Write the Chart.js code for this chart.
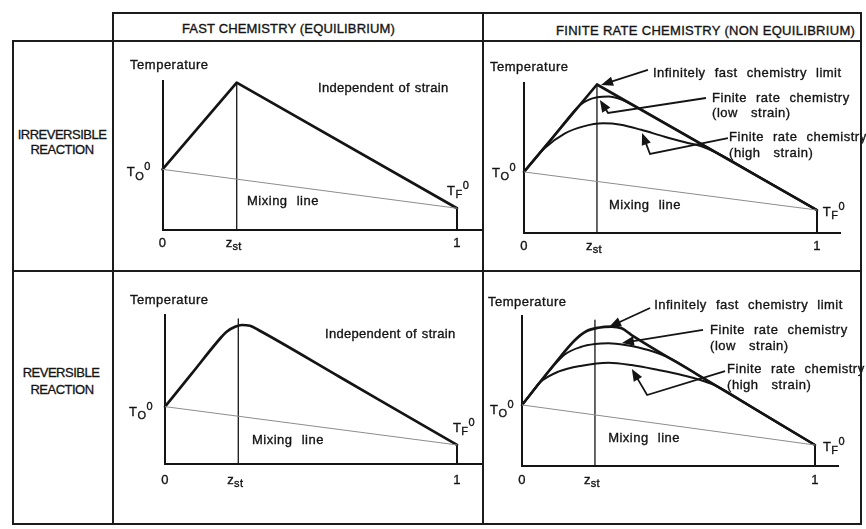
<!DOCTYPE html>
<html><head><meta charset="utf-8">
<script src="https://cdn.jsdelivr.net/npm/chart.js@4.4.1/dist/chart.umd.min.js"></script>
<style>
html,body{margin:0;padding:0;background:#fff}
body{width:866px;height:529px;position:relative;overflow:hidden;font-family:"Liberation Sans",Arial,Helvetica,sans-serif;color:#141414}
canvas{position:absolute}
.ln{position:absolute;background:#1c1c1c;z-index:5}
.hd{position:absolute;font-size:13px;line-height:16px;white-space:nowrap;letter-spacing:0.15px;-webkit-text-stroke:0.35px #141414}
.rl{position:absolute;font-size:13px;line-height:16px;white-space:nowrap;letter-spacing:-0.5px;text-align:center;width:100px;-webkit-text-stroke:0.3px #141414}
</style></head><body>
<canvas id="cA"></canvas><canvas id="cB"></canvas><canvas id="cC"></canvas><canvas id="cD"></canvas>
<div id="frame"></div>
<script>
// ---------------- DATA (z = mixture fraction, T = temperature in % of axis height) ----------------
const columnHeaders = ['FAST CHEMISTRY (EQUILIBRIUM)', 'FINITE RATE CHEMISTRY (NON EQUILIBRIUM)'];
const rowHeaders = [['IRREVERSIBLE', 'REACTION'], ['REVERSIBLE', 'REACTION']];
const tickLabels = ['0', 'z_st', '1'];

// stoichiometric mixture fraction, boundary temperatures, per panel A,B,C,D
const zStoich = [0.252, 0.249, 0.251, 0.249];
const tOxidizer = [40.5, 40.7, 38.5, 40.7];
const tFuel = [14.3, 15.3, 12.8, 14];
const zStoichLineTop = [98.9, 98.7, 97.3, 97.3];

// Panel A: irreversible, fast chemistry
const aFastZ = [0, 0.252, 1];
const aFastT = [40.5, 98.9, 14.3];

// Panel B: irreversible, finite rate
const bFastZ = [0, 0.249, 1];
const bFastT = [40.7, 99, 15.3];
const bLowZ = [0, 0.1, 0.19, 0.22, 0.25, 0.29, 0.32, 0.35, 0.39, 0.6, 0.8, 1];
const bLowT = [40.7, 64.1, 85.2, 88.8, 90.5, 91, 89.8, 87.4, 83.3, 59.9, 37.6, 15.3];
const bHighZ = [0, 0.03, 0.07, 0.14, 0.2, 0.27, 0.33, 0.4, 0.48, 0.55, 0.61, 0.66, 0.8, 1];
const bHighT = [40.7, 47.7, 56.5, 66.4, 70.9, 73.1, 72.2, 68.8, 64.2, 60.5, 57.5, 53.2, 37.6, 15.3];

// Panel C: reversible, fast chemistry
const cFastZ = [0, 0.09, 0.194, 0.211, 0.24, 0.263, 0.291, 0.32, 0.6, 0.8, 1];
const cFastT = [38.5, 60.3, 85.4, 88.8, 92.1, 93.3, 92.8, 89.9, 58.2, 35.5, 12.8];

// Panel D: reversible, finite rate
const dFastZ = [0, 0.113, 0.181, 0.221, 0.26, 0.306, 0.34, 0.374, 0.6, 0.8, 1];
const dFastT = [40.7, 68.5, 84, 90, 92.2, 92.9, 91.8, 87.3, 60.8, 37.4, 14];
const dLowZ = [0, 0.06, 0.1, 0.147, 0.2, 0.249, 0.295, 0.352, 0.431, 0.511, 0.6, 0.8, 1];
const dLowT = [40.7, 55.5, 65, 74.5, 79.3, 81.3, 81.8, 80.7, 77.3, 71.3, 60.8, 37.4, 14];
const dHighZ = [0, 0.03, 0.061, 0.124, 0.204, 0.295, 0.374, 0.465, 0.545, 0.619, 0.66, 0.8, 1];
const dHighT = [40.7, 48.1, 55.7, 62.9, 66.9, 68.9, 67.3, 64, 60.7, 56.7, 53.7, 37.4, 14];

// ---------------- ANNOTATIONS (positions in data units z,T) ----------------
const stWide = {ls: 0.5, ws: 9};
const stIndep = {ls: 0.3, ws: 1};
const annotA = {
  tickT: -9.1,
  texts: [
    {t: 'Temperature', z: -0.110, T: 110.8},
    {t: 'Independent of strain', z: 0.528, T: 95.3, st: stIndep},
    {t: 'Mixing line', z: 0.287, T: 19.2},
    {t: 'T_O^0', z: -0.121, T: 38.4},
    {t: 'T_F^0', z: 0.966, T: 25.9}
  ],
  arrows: []
};
const annotB = {
  tickT: -8.7,
  texts: [
    {t: 'Temperature', z: -0.116, T: 110.7},
    {t: 'Infinitely fast chemistry limit', z: 0.440, T: 106.7},
    {t: 'Finite rate chemistry', z: 0.642, T: 90},
    {t: '(low strain)', z: 0.642, T: 80, st: stWide},
    {t: 'Finite rate chemistry', z: 0.700, T: 64},
    {t: '(high strain)', z: 0.700, T: 53.3, st: stWide},
    {t: 'Mixing line', z: 0.290, T: 18.7},
    {t: 'T_O^0', z: -0.109, T: 40},
    {t: 'T_F^0', z: 1.020, T: 14}
  ],
  arrows: [
    [[0.423, 108.7], [0.263, 98.7]],
    [[0.621, 90], [0.287, 80], [0.259, 88.7]],
    [[0.696, 63.3], [0.430, 52.7], [0.403, 66.7]]
  ]
};
const annotC = {
  tickT: -10.7,
  texts: [
    {t: 'Temperature', z: -0.120, T: 110.1},
    {t: 'Independent of strain', z: 0.548, T: 87.2, st: stIndep},
    {t: 'Mixing line', z: 0.298, T: 16.1},
    {t: 'T_O^0', z: -0.123, T: 34.9},
    {t: 'T_F^0', z: 0.986, T: 24.2}
  ],
  arrows: []
};
const annotD = {
  tickT: -9.3,
  texts: [
    {t: 'Temperature', z: -0.116, T: 109.3},
    {t: 'Infinitely fast chemistry limit', z: 0.451, T: 107.3},
    {t: 'Finite rate chemistry', z: 0.642, T: 90.7},
    {t: '(low strain)', z: 0.642, T: 80, st: stWide},
    {t: 'Finite rate chemistry', z: 0.700, T: 64.7},
    {t: '(high strain)', z: 0.700, T: 54, st: stWide},
    {t: 'Mixing line', z: 0.294, T: 18.7},
    {t: 'T_O^0', z: -0.109, T: 37.3},
    {t: 'T_F^0', z: 1.027, T: 12.7}
  ],
  arrows: [
    [[0.437, 105.3], [0.297, 92.7]],
    [[0.618, 90.7], [0.341, 82]],
    [[0.693, 63.3], [0.427, 47.3], [0.375, 64.7]]
  ]
};

// ---------------- LAYOUT (pixels) ----------------
const layout = {
  A: {cell: [114, 42, 482, 270], z0: 162.5, z1: 457, xEnd: 481, top: 81, base: 229.5},
  B: {cell: [484, 42, 866, 270], z0: 524, z1: 817, xEnd: 840, top: 83, base: 233},
  C: {cell: [114, 272, 482, 523], z0: 165, z1: 457, xEnd: 481, top: 315, base: 464},
  D: {cell: [484, 272, 866, 523], z0: 522, z1: 815, xEnd: 838, top: 316, base: 466}
};
const hLines = [[13, 112, 862], [41, 12, 862], [271, 12, 862], [524, 12, 862]];
const vLines = [[13, 41, 525], [113, 12, 525], [483, 12, 525], [861, 12, 525]];

const INK = '#141414';
const FONT = '"Liberation Sans", Arial, Helvetica, sans-serif';

// ---------------- FRAME / HTML TEXT ----------------
const frame = document.getElementById('frame');
function addDiv(cls, css, text) {
  const d = document.createElement('div');
  d.className = cls; Object.assign(d.style, css);
  if (text) d.textContent = text;
  frame.appendChild(d);
}
hLines.forEach(([y, x1, x2]) => addDiv('ln', {left: x1 + 'px', top: (y - 1) + 'px', width: (x2 - x1) + 'px', height: '2px'}));
vLines.forEach(([x, y1, y2]) => addDiv('ln', {left: (x - 1) + 'px', top: y1 + 'px', width: '2px', height: (y2 - y1) + 'px'}));
addDiv('hd', {left: '182px', top: '21px'}, columnHeaders[0]);
addDiv('hd', {left: '556px', top: '23px', letterSpacing: '0.3px'}, columnHeaders[1]);
addDiv('rl', {left: '12px', top: '127px'}, rowHeaders[0][0]);
addDiv('rl', {left: '12px', top: '142px'}, rowHeaders[0][1]);
addDiv('rl', {left: '11px', top: '365px'}, rowHeaders[1][0]);
addDiv('rl', {left: '12px', top: '382px'}, rowHeaders[1][1]);

// ---------------- DRAW HELPERS ----------------
function drawRich(ctx, str, x, y, align, st) {
  const size = st.size || 13;
  const parts = [];
  const re = /([_^])([^_^\s]+)|([^_^]+)/g; let m;
  while ((m = re.exec(str))) {
    if (m[3]) parts.push({s: m[3], k: 'n'});
    else parts.push({s: m[2], k: m[1] === '_' ? 'sub' : 'sup'});
  }
  ctx.letterSpacing = (st.ls !== undefined ? st.ls : 0.5) + 'px';
  ctx.wordSpacing = (st.ws !== undefined ? st.ws : 5) + 'px';
  const fontFor = k => (k === 'n' ? size : Math.round(size * 0.82)) + 'px ' + FONT;
  let w = 0;
  parts.forEach(p => { ctx.font = fontFor(p.k); p.w = ctx.measureText(p.s).width; w += p.w; });
  let cx = align === 'center' ? x - w / 2 : x;
  ctx.lineWidth = 0.35;
  parts.forEach(p => {
    ctx.font = fontFor(p.k);
    const dy = p.k === 'sub' ? size * 0.32 : (p.k === 'sup' ? -size * 0.42 : 0);
    ctx.fillText(p.s, cx, y + dy);
    ctx.strokeText(p.s, cx, y + dy);
    cx += p.w;
  });
}
function drawArrow(ctx, pts) {
  const n = pts.length;
  const [x1, y1] = pts[n - 2], [x2, y2] = pts[n - 1];
  const ang = Math.atan2(y2 - y1, x2 - x1);
  const L = 12, W = 4.8;
  ctx.lineWidth = 1.8;
  ctx.beginPath();
  ctx.moveTo(pts[0][0], pts[0][1]);
  for (let i = 1; i < n - 1; i++) ctx.lineTo(pts[i][0], pts[i][1]);
  ctx.lineTo(x2 - (L - 2) * Math.cos(ang), y2 - (L - 2) * Math.sin(ang));
  ctx.stroke();
  ctx.beginPath();
  ctx.moveTo(x2, y2);
  ctx.lineTo(x2 - L * Math.cos(ang) + W * Math.sin(ang), y2 - L * Math.sin(ang) - W * Math.cos(ang));
  ctx.lineTo(x2 - L * Math.cos(ang) - W * Math.sin(ang), y2 - L * Math.sin(ang) + W * Math.cos(ang));
  ctx.closePath();
  ctx.fill();
}
function makeAnnot(cfg, zst) {
  return {
    id: 'annot',
    afterDatasetsDraw(chart) {
      const ctx = chart.ctx, xs = chart.scales.x, ys = chart.scales.y;
      const P = (z, t) => [xs.getPixelForValue(z), ys.getPixelForValue(t)];
      ctx.save();
      ctx.fillStyle = INK; ctx.strokeStyle = INK;
      ctx.textBaseline = 'middle'; ctx.textAlign = 'left';
      [0, zst, 1].forEach((v, i) => {
        const [x, y] = P(v, cfg.tickT);
        drawRich(ctx, tickLabels[i], x + (i === 1 ? -3 : 0), y, 'center', {ls: 0.3});
      });
      cfg.texts.forEach(a => { const [x, y] = P(a.z, a.T); drawRich(ctx, a.t, x, y, 'left', a.st || {}); });
      cfg.arrows.forEach(ar => drawArrow(ctx, ar.map(p => P(p[0], p[1]))));
      ctx.restore();
    }
  };
}
const pts = (zs, ts) => zs.map((z, i) => ({x: z, y: ts[i]}));
function line(data, width, color, smooth) {
  return {data, borderColor: color || INK, borderWidth: width, pointRadius: 0, fill: false,
    tension: 0, cubicInterpolationMode: smooth ? 'monotone' : 'default', clip: false,
    borderCapStyle: 'round', borderJoinStyle: 'round'};
}
function baseSets(i) {
  return [
    line(pts([0, 1], [tOxidizer[i], tFuel[i]]), 1, '#8c8c8c'),
    line(pts([zStoich[i], zStoich[i]], [0, zStoichLineTop[i]]), 1.3),
    line(pts([1, 1], [0, tFuel[i]]), 2)
  ];
}

// ---------------- CHARTS ----------------
const panels = [
  {id: 'A', i: 0, annot: annotA, sets: [line(pts(aFastZ, aFastT), 2.7)]},
  {id: 'B', i: 1, annot: annotB, sets: [line(pts(bFastZ, bFastT), 2.7),
    line(pts(bLowZ, bLowT), 2, INK, true), line(pts(bHighZ, bHighT), 2, INK, true)]},
  {id: 'C', i: 2, annot: annotC, sets: [line(pts(cFastZ, cFastT), 2.7, INK, true)]},
  {id: 'D', i: 3, annot: annotD, sets: [line(pts(dFastZ, dFastT), 2.6, INK, true),
    line(pts(dLowZ, dLowT), 2, INK, true), line(pts(dHighZ, dHighT), 2, INK, true)]}
];
panels.forEach(p => {
  const g = layout[p.id];
  const cv = document.getElementById('c' + p.id);
  const w = g.cell[2] - g.cell[0], h = g.cell[3] - g.cell[1];
  cv.width = w; cv.height = h;
  cv.style.left = g.cell[0] + 'px'; cv.style.top = g.cell[1] + 'px';
  cv.style.width = w + 'px'; cv.style.height = h + 'px';
  const xMax = (g.xEnd - g.z0) / (g.z1 - g.z0);
  const axis = (min, max) => ({type: 'linear', min, max, display: true,
    grid: {display: false, drawTicks: false}, ticks: {display: false},
    border: {display: true, color: INK, width: 2}});
  new Chart(cv, {
    type: 'line',
    data: {datasets: [...baseSets(p.i), ...p.sets]},
    options: {
      responsive: false, animation: false, devicePixelRatio: 1, events: [],
      layout: {padding: {left: g.z0 - g.cell[0], right: g.cell[2] - g.xEnd,
        top: g.top - g.cell[1], bottom: g.cell[3] - g.base}},
      plugins: {legend: {display: false}, tooltip: {enabled: false}},
      scales: {x: axis(0, xMax), y: axis(0, 100)}
    },
    plugins: [makeAnnot(p.annot, zStoich[p.i])]
  });
});
</script></body></html>
